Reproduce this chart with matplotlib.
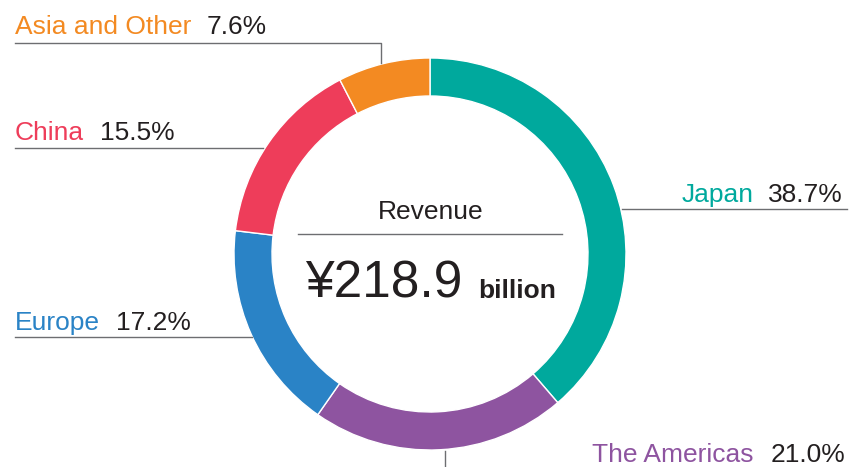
import matplotlib.pyplot as plt

# revenue share by region (%), clockwise from 12 o'clock
regions = ['Japan', 'The Americas', 'Europe', 'China', 'Asia and Other']
shares = [38.7, 21.0, 17.2, 15.5, 7.6]
colors = ['#00a99d', '#8e54a0', '#2a83c6', '#ee3d5a', '#f38a22']
total_revenue = 218.9  # billion yen

plt.rcParams['font.family'] = ['Liberation Sans', 'DejaVu Sans']
H = 467
dark = '#231f20'
grey = '#6d6e71'

fig = plt.figure(figsize=(8.52, 4.67), dpi=100)
ax = fig.add_axes([0, 0, 1, 1])

ax.pie(shares, colors=colors, startangle=90, counterclock=False,
       center=(430, H - 254), radius=196,
       wedgeprops=dict(width=38, edgecolor='white', linewidth=1))
ax.set_xlim(0, 852)
ax.set_ylim(0, H)
ax.set_aspect('equal')
ax.axis('off')

def y(v):
    return H - v

# leader lines
lw = 1.0
ax.plot([15, 381, 381], [y(43), y(43), y(63)], color=grey, lw=lw)
ax.plot([15, 263], [y(148), y(148)], color=grey, lw=lw)
ax.plot([15, 252], [y(337), y(337)], color=grey, lw=lw)
ax.plot([622, 847], [y(209), y(209)], color=grey, lw=lw)
ax.plot([445, 445], [y(451), y(467)], color=grey, lw=lw)

fs = 19
# left side: (name left x, pct left x, baseline)
# right side: (name right x, pct right x, baseline)
label_pos = {
    'Asia and Other': ('left', 15, 207, 34),
    'China': ('left', 15, 100, 140),
    'Europe': ('left', 15, 116, 330),
    'Japan': ('right', 754, 843, 202),
    'The Americas': ('right', 753, 845, 462),
}
for name, share, c in zip(regions, shares, colors):
    ha, nx, px, by = label_pos[name]
    ax.text(nx, y(by), name, color=c, fontsize=fs, ha=ha, va='baseline')
    ax.text(px, y(by), f'{share:.1f}%', color=dark, fontsize=fs,
            ha=ha, va='baseline')

# centre caption
ax.text(431, y(219), 'Revenue', color=dark, fontsize=19, ha='center', va='baseline')
ax.plot([298, 562], [y(234), y(234)], color=grey, lw=1.0)
ax.text(305, y(298), f'¥{total_revenue:.1f}', color=dark, fontsize=37,
        ha='left', va='baseline')
ax.text(478, y(298), 'billion', color=dark, fontsize=19, ha='left',
        va='baseline', fontweight='bold')

fig.savefig('out.png', dpi=100)
